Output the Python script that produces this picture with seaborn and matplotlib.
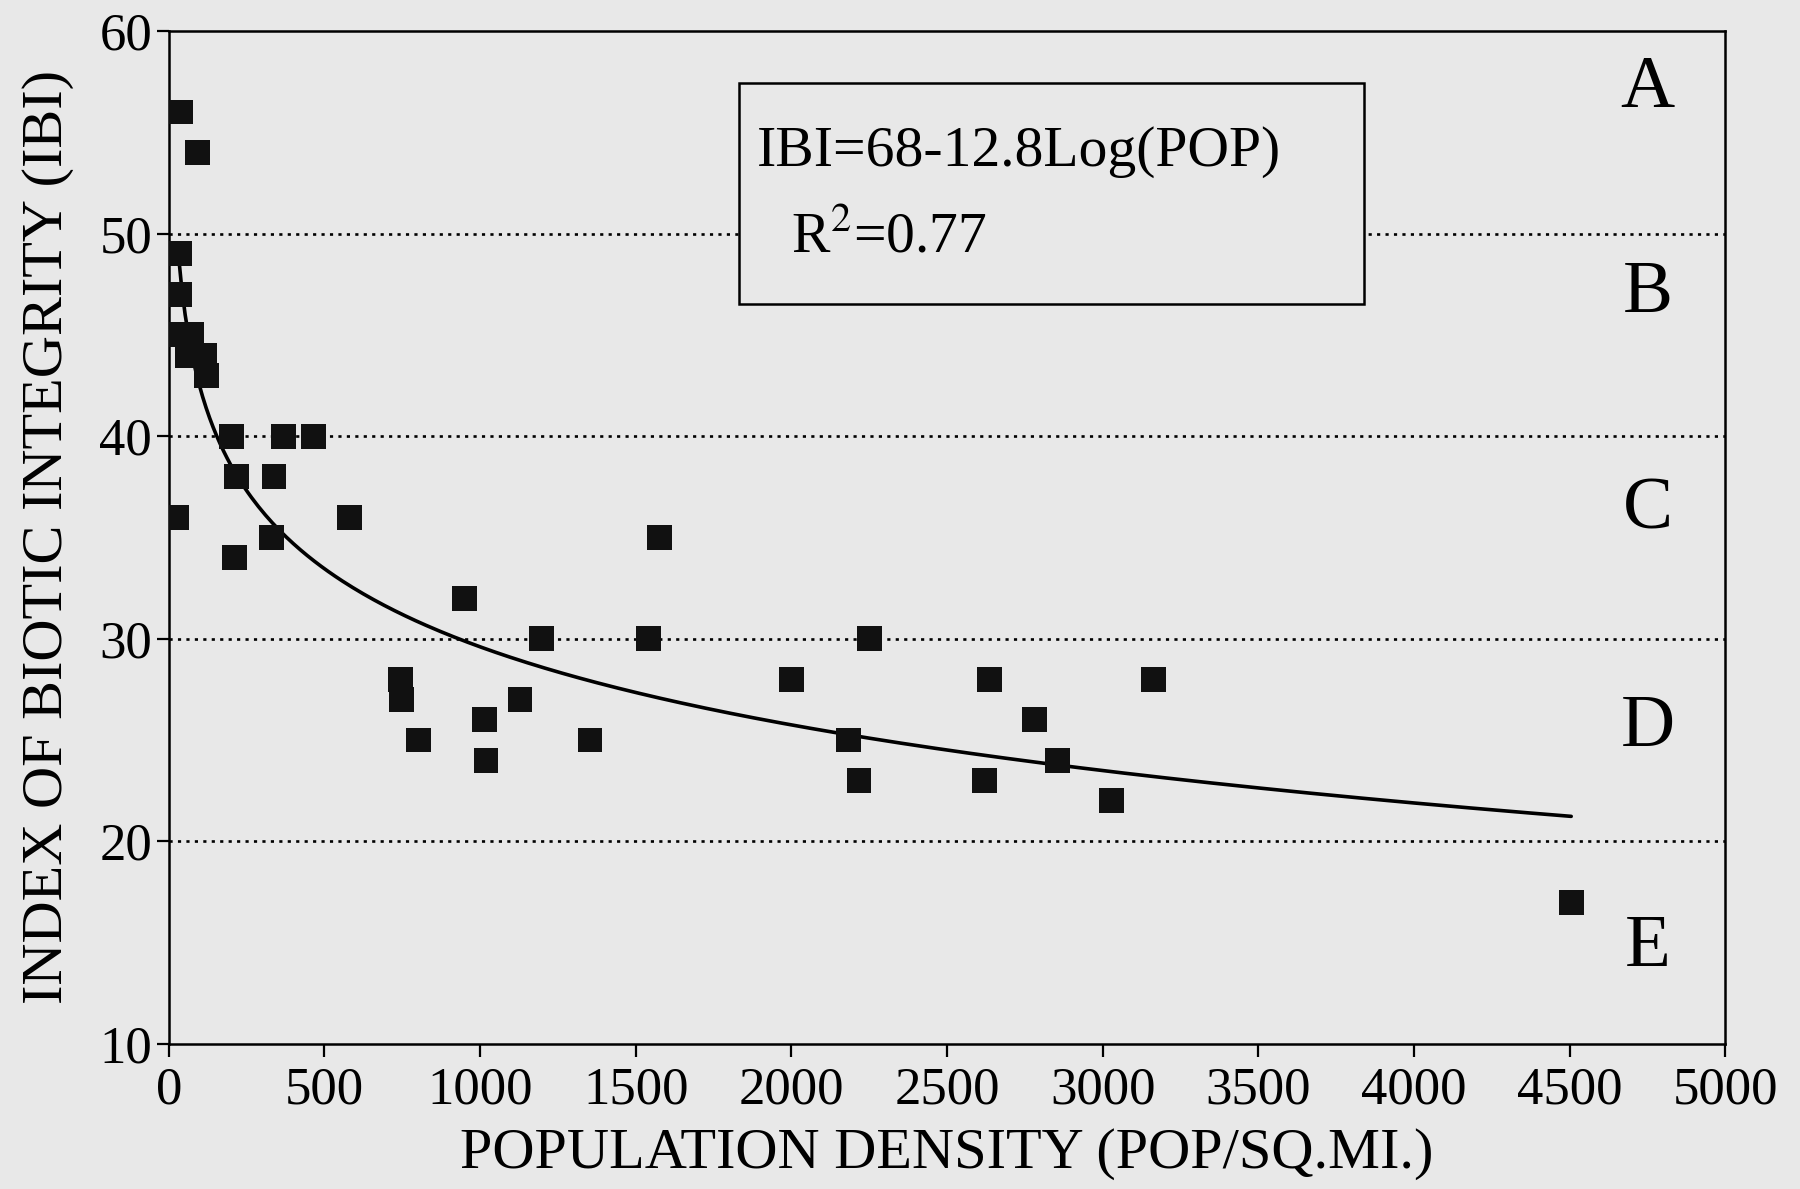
import numpy as np
import pandas as pd
import matplotlib
matplotlib.use("Agg")
import matplotlib.pyplot as plt
from matplotlib.patches import Rectangle
import seaborn as sns

# population density (pop / sq. mi.) and IBI score for each site
pop_density = [38, 92, 35, 35, 41, 73, 60, 116, 121,
               201, 367, 466, 217, 338, 25, 580, 330, 210,
               950, 1575, 1198, 1542, 2250, 743, 747, 1128, 1013,
               801, 1019, 1353, 1999, 2637, 2183, 2217, 2619, 2781,
               2855, 3027, 3163, 4505]
ibi_score = [56, 54, 49, 47, 45, 45, 44, 44, 43,
             40, 40, 40, 38, 38, 36, 36, 35, 34,
             32, 35, 30, 30, 30, 28, 27, 27, 26,
             25, 24, 25, 28, 28, 25, 23, 23, 26,
             24, 22, 28, 17]

# fitted equation printed on the chart: IBI = 68 - 12.8 log10(POP)
FIT_A = 68
FIT_B = 12.8
FIT_R2 = 0.77

class_labels = ["A", "B", "C", "D", "E"]
class_label_y = [57.1, 47.0, 36.3, 25.6, 14.7]
grid_levels = [20, 30, 40, 50]

x_ticks = list(range(0, 5001, 500))
y_ticks = list(range(10, 61, 10))

df = pd.DataFrame({"pop": pop_density, "ibi": ibi_score})
fit_x = np.linspace(30, max(pop_density), 400)
fit_df = pd.DataFrame({"pop": fit_x, "ibi": FIT_A - FIT_B * np.log10(fit_x)})

BG = "#e8e8e8"
sns.set_theme(style="white")
plt.rcParams["font.family"] = ["Liberation Serif", "DejaVu Serif"]
plt.rcParams["mathtext.fontset"] = "stix"
plt.rcParams["text.color"] = "black"
plt.rcParams["axes.labelcolor"] = "black"
plt.rcParams["xtick.color"] = "black"
plt.rcParams["ytick.color"] = "black"

fig = plt.figure(figsize=(18, 11.89), dpi=100, facecolor=BG)
ax = fig.add_axes([0.0938, 0.122, 0.8647, 0.852])
ax.set_facecolor(BG)

for g in grid_levels:
    ax.axhline(g, color="black", linestyle=(0, (1.2, 2.0)), linewidth=1.9, zorder=1)

sns.lineplot(data=fit_df, x="pop", y="ibi", ax=ax, color="black",
             linewidth=2.6, zorder=3, legend=False)
sns.scatterplot(data=df, x="pop", y="ibi", ax=ax, marker="s", s=320,
                color="#111111", edgecolor="none", linewidth=0, zorder=4,
                legend=False)

ax.set_xlim(0, 5000)
ax.set_ylim(10, 60)
ax.set_xticks(x_ticks)
ax.set_yticks(y_ticks)
ax.tick_params(axis="both", direction="out", length=9, width=1.6,
               color="black", labelsize=38, pad=3, bottom=True, left=True)
ax.tick_params(axis="x", pad=7)
for sp in ax.spines.values():
    sp.set_color("black")
    sp.set_linewidth(1.8)

ax.set_xlabel("POPULATION DENSITY (POP/SQ.MI.)", fontsize=42, labelpad=10)
ax.set_ylabel("INDEX OF BIOTIC INTEGRITY (IBI)", fontsize=42, labelpad=18)

# equation box
box = Rectangle((0.366, 0.730), 0.402, 0.219, transform=ax.transAxes,
                facecolor=BG, edgecolor="black", linewidth=1.8, zorder=5)
ax.add_patch(box)
ax.text(0.378, 0.880, "IBI=68-12.8Log(POP)", transform=ax.transAxes,
        fontsize=41.5, ha="left", va="center", zorder=6)
ax.text(0.400, 0.795, r"R$^{2}$=" + f"{FIT_R2:.2f}", transform=ax.transAxes,
        fontsize=41.5, ha="left", va="center", zorder=6)

for lab, yv in zip(class_labels, class_label_y):
    ax.text(4750, yv, lab, fontsize=54, ha="center", va="center", zorder=6)

fig.savefig("out.png", dpi=100, facecolor=BG)
plt.close(fig)
